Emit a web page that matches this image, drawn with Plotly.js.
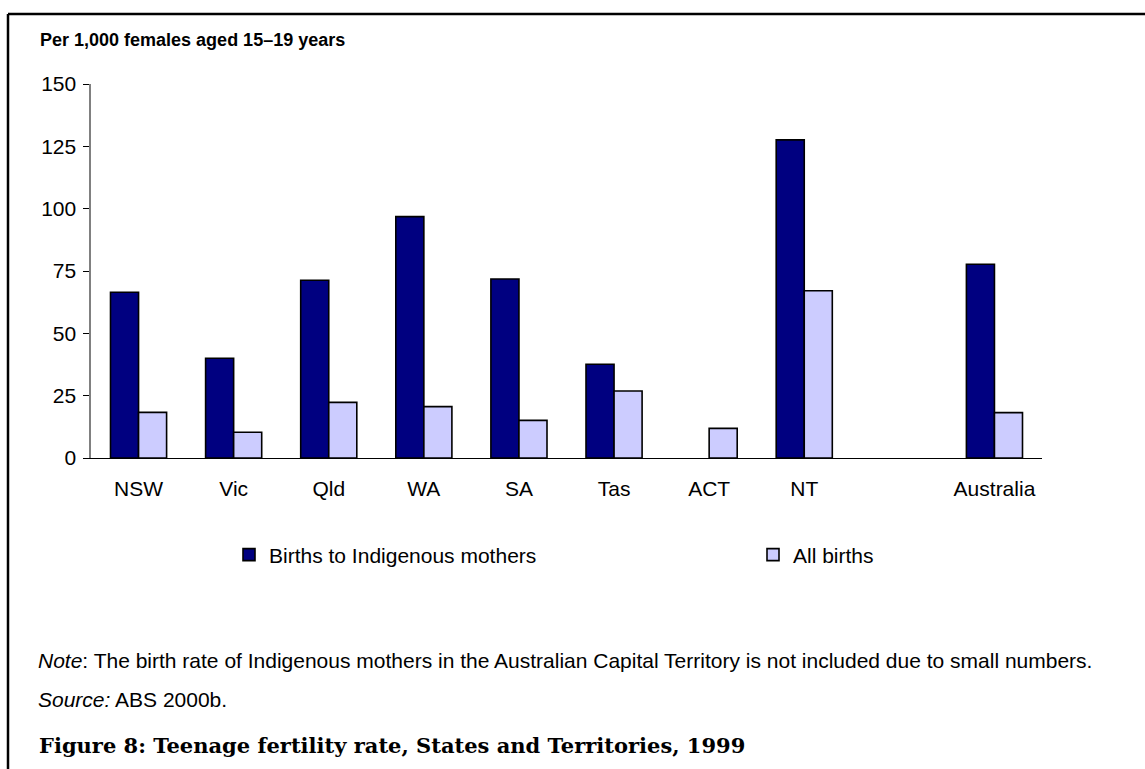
<!DOCTYPE html>
<html>
<head>
<meta charset="utf-8">
<script src="https://cdn.plot.ly/plotly-3.0.1.min.js"></script>
<style>html,body{margin:0;padding:0;background:#fff;}#chart{width:1145px;height:769px;}</style>
</head>
<body>
<div id="chart"></div>
<script>
var categories = ['NSW', 'Vic', 'Qld', 'WA', 'SA', 'Tas', 'ACT', 'NT', ' ', 'Australia'];
var indigenousBirths = [66.5, 40.0, 71.3, 96.8, 71.8, 37.6, null, 127.6, null, 77.7];
var allBirths = [18.3, 10.3, 22.3, 20.6, 15.1, 26.9, 11.9, 67.1, null, 18.2];
var yTickVals = [0, 25, 50, 75, 100, 125, 150];
var seriesNames = ['Births to Indigenous mothers', 'All births'];

var W = 1145, H = 769;
var L = 91, R = 1042, T = 84, B = 458;
function px(x) { return (x - L) / (R - L); }
function py(y) { return (B - y) / (B - T); }
var SANS = 'Liberation Sans, Arial, sans-serif';

var traces = [
  {type: 'bar', name: seriesNames[0], x: categories, y: indigenousBirths, legend: 'legend',
   marker: {color: '#000080', line: {color: '#000000', width: 1.6}}},
  {type: 'bar', name: seriesNames[1], x: categories, y: allBirths, legend: 'legend2',
   marker: {color: '#CCCCFF', line: {color: '#000000', width: 1.6}}}
];

var legendStyle = function (xp) {
  return {orientation: 'h', x: px(xp), y: py(555), xanchor: 'left', yanchor: 'middle',
          itemwidth: 30, font: {size: 21, family: SANS}, bgcolor: 'rgba(0,0,0,0)'};
};

var layout = {
  width: W, height: H,
  margin: {l: L, r: W - R, t: T, b: H - B, pad: 0},
  paper_bgcolor: '#ffffff', plot_bgcolor: '#ffffff',
  font: {family: SANS, color: '#000000'},
  barmode: 'group', bargap: 0.41, bargroupgap: 0,
  showlegend: true,
  legend: legendStyle(229),
  legend2: legendStyle(753),
  xaxis: {type: 'category', categoryorder: 'array', categoryarray: categories,
          showline: true, linecolor: '#000000', linewidth: 1.2,
          ticks: 'outside', ticklen: 12, tickcolor: 'rgba(0,0,0,0)',
          tickfont: {size: 21}, showgrid: false, zeroline: false, fixedrange: true},
  yaxis: {range: [0, 150], tickvals: yTickVals, ticktext: yTickVals.map(String),
          showline: true, linecolor: '#808080', linewidth: 1.6,
          ticks: 'outside', ticklen: 6, tickcolor: '#000000', tickwidth: 1,
          ticklabelstandoff: 3,
          tickfont: {size: 21}, showgrid: false, zeroline: false, fixedrange: true},
  annotations: [
    {xref: 'paper', yref: 'paper', x: px(38), y: py(40), xanchor: 'left', yanchor: 'middle',
     text: '<b>Per 1,000 females aged 15–19 years</b>', showarrow: false,
     font: {size: 18, family: SANS}},
    {xref: 'paper', yref: 'paper', x: px(36), y: py(660), xanchor: 'left', yanchor: 'middle',
     text: '<i>Note</i>: The birth rate of Indigenous mothers in the Australian Capital Territory is not included due to small numbers.',
     showarrow: false, font: {size: 21, family: SANS}},
    {xref: 'paper', yref: 'paper', x: px(36), y: py(699), xanchor: 'left', yanchor: 'middle',
     text: '<i>Source:</i> ABS 2000b.',
     showarrow: false, font: {size: 21, family: SANS}},
    {xref: 'paper', yref: 'paper', x: px(37), y: py(745), xanchor: 'left', yanchor: 'middle',
     text: '<b>Figure 8: Teenage fertility rate, States and Territories, 1999</b>',
     showarrow: false, font: {size: 21, family: 'DejaVu Serif, serif'}}
  ],
  shapes: [
    {type: 'line', xref: 'paper', yref: 'paper', x0: px(8), x1: px(1150), y0: py(14), y1: py(14),
     line: {color: '#000000', width: 2.5}},
    {type: 'line', xref: 'paper', yref: 'paper', x0: px(8), x1: px(8), y0: py(14), y1: py(780),
     line: {color: '#000000', width: 2.5}}
  ]
};

Plotly.newPlot('chart', traces, layout, {displayModeBar: false, staticPlot: true});
</script>
</body>
</html>
